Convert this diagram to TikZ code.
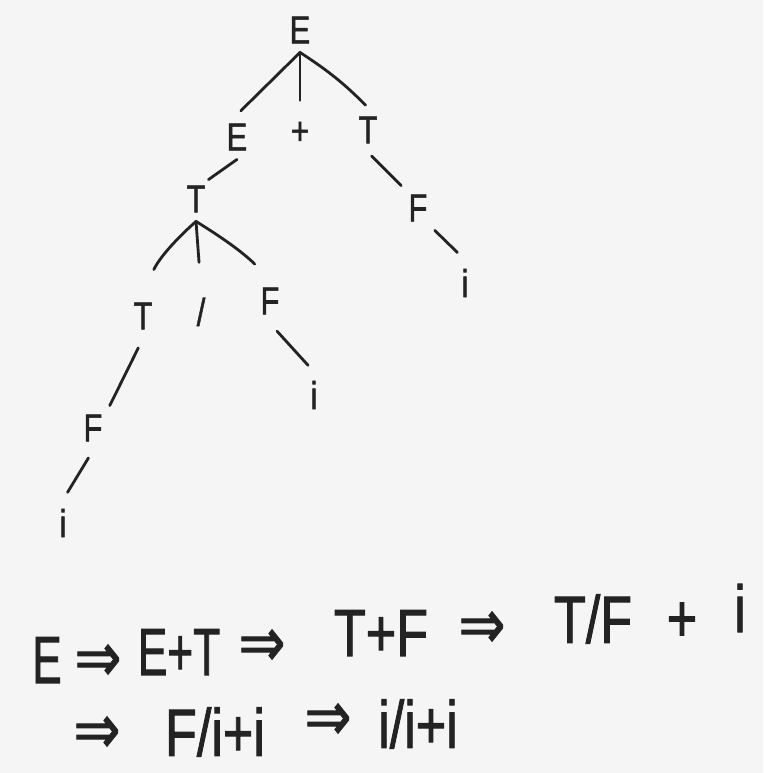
\documentclass[tikz,border=0pt]{standalone}
\usepackage{fontspec}
\setmainfont{Liberation Sans}
\newfontfamily\handfont{Liberation Sans}[FakeBold=1.6]
\newfontfamily\arrowfont{DejaVu Sans}[FakeBold=1.2]
\usepackage{tikz}
\definecolor{paper}{RGB}{245,245,245}
\definecolor{ink}{RGB}{35,35,35}

\begin{document}
\begin{tikzpicture}
[
x=0.02cm, y=-0.02cm,
every node/.style={text=ink, inner sep=5pt},
sym/.style={font=\handfont\fontsize{22}{22}\selectfont, xscale=0.8, transform shape},
deriv/.style={font=\handfont\fontsize{38}{38}\selectfont, xscale=0.78, transform shape},
yields/.style={font=\arrowfont\fontsize{40}{40}\selectfont, xscale=0.8, transform shape},
branch/.style={draw=ink, line width=1.6pt, line cap=round}
]
\fill[paper] (0,0) rectangle (763,773);
\useasboundingbox (0,0) rectangle (763,773);

\node[sym] (root) at (300,30) {E};
\node[sym] (e1) at (237,137) {E};
\node[sym] (plus) at (300,133) {+};
\node[sym] (t1) at (368,130) {T};
\node[sym] (t2) at (196,199) {T};
\node[sym] (f6) at (418,208) {F};
\node[sym] (i6) at (465,283) {i};
\node[sym] (t3) at (143,316) {T};
\node[sym] (slash) at (201,312) {/};
\node[sym] (f3) at (270,301) {F};
\node[sym] (i5) at (314,395) {i};
\node[sym] (f4) at (93,428) {F};
\node[sym] (i4) at (63,523) {i};

\draw[branch, shorten >=3pt] (root.south) -- (e1.north);
\draw[branch, shorten >=7pt] (root.south) -- (plus.north);
\draw[branch, shorten >=2pt] (root.south) to[bend left=6] (t1.north);
\draw[branch, shorten >=-3pt] (e1.south) -- (t2.north east);
\draw[branch, shorten >=15pt] (t2.south) to[bend right=12] (t3.north);
\draw[branch, shorten >=15pt] (t2.south) -- (slash.north);
\draw[branch, shorten >=12pt] (t2.south) to[bend left=6] (f3.north);
\draw[branch, shorten <=6pt] (t3.south) -- (f4.north east);
\draw[branch, shorten <=5pt, shorten >=5pt] (f4.south) -- (i4.north);
\draw[branch, shorten <=6pt, shorten >=5pt] (f3.south) -- (i5.north);
\draw[branch, shorten <=3pt] (t1.south) -- (f6.north west);
\draw[branch, shorten >=6pt] (f6.south east) -- (i6.north);

\node[deriv, xscale=0.85] (s0) at (47,660) {E};
\node[yields] (a1) at (98,663) {⇒};
\node[deriv, xscale=0.85] (s1) at (179,652) {E+T};
\node[yields] (a2) at (262,648) {⇒};
\node[deriv] (s2) at (381,633) {T+F};
\node[yields] (a3) at (482,630) {⇒};
\node[deriv] (s3) at (593,619) {T/F};
\node[deriv] (s3p) at (682,622) {+};
\node[deriv] (s3i) at (740,608) {i};
\node[yields] (a4) at (97,735) {⇒};
\node[deriv] (s4) at (215,732) {F/i+i};
\node[yields] (a5) at (328,722) {⇒};
\node[deriv] (s5) at (418,724) {i/i+i};
\end{tikzpicture}
\end{document}
